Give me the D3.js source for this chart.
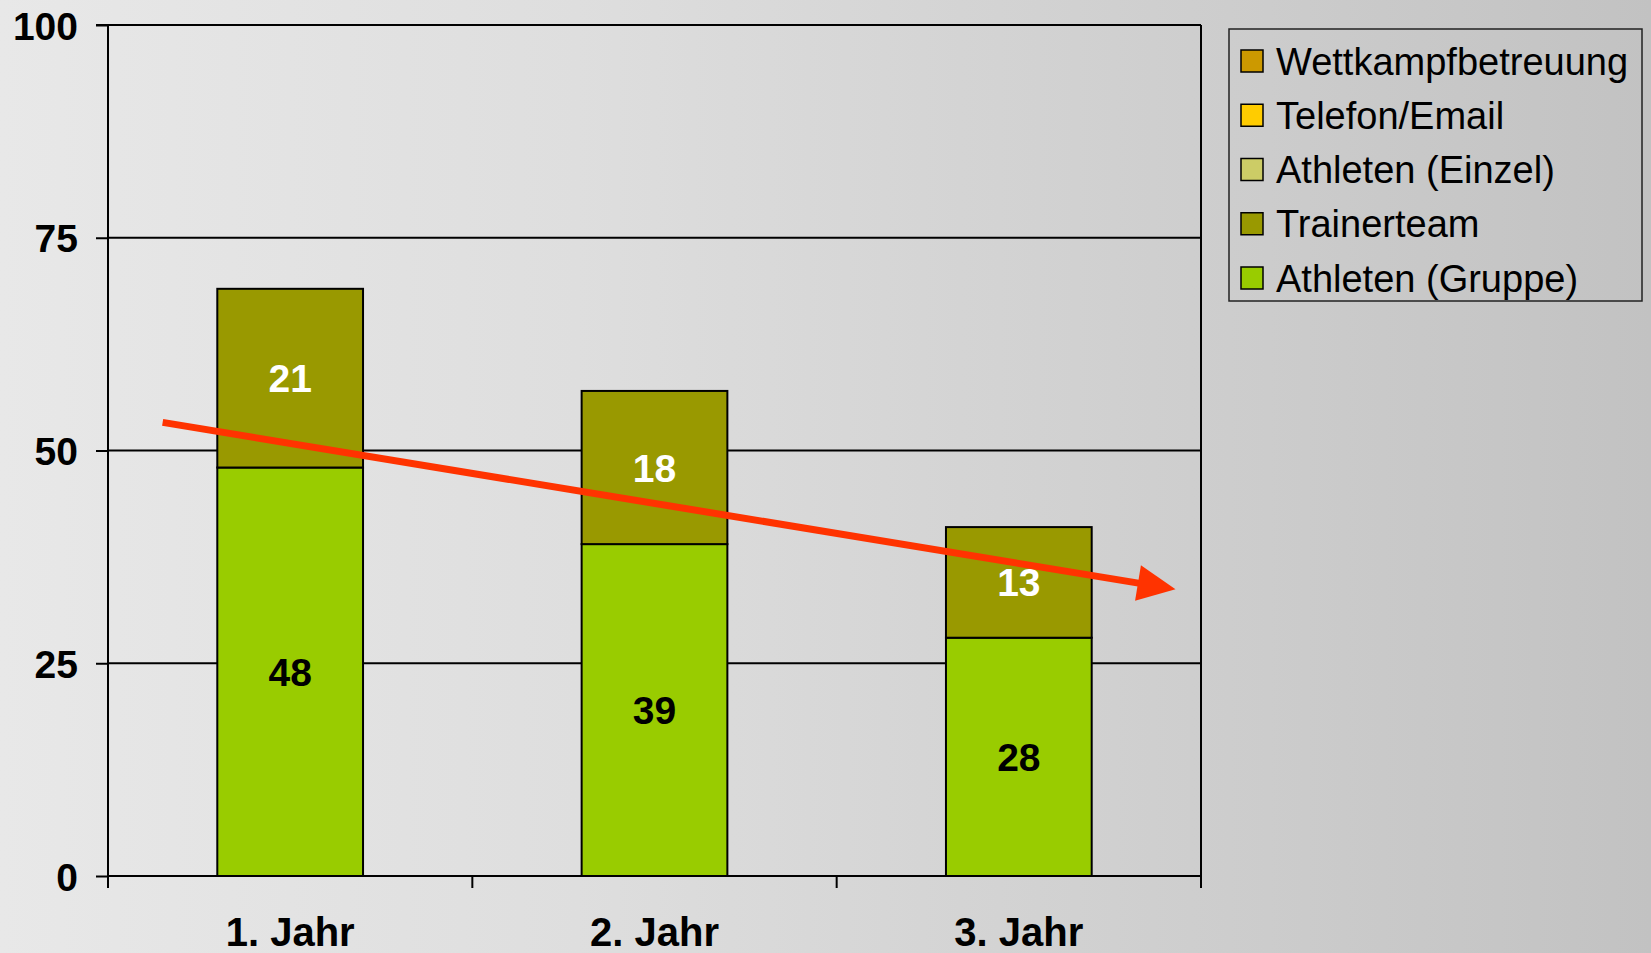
<!DOCTYPE html>
<html>
<head>
<meta charset="utf-8">
<script src="https://cdn.jsdelivr.net/npm/d3@7"></script>
<style>
  html, body { margin: 0; padding: 0; background: #d6d6d6; }
  svg { display: block; }
  text { font-family: "Liberation Sans", Arial, Helvetica, sans-serif; }
</style>
</head>
<body>
<svg id="chart" width="1651" height="953"></svg>
<script>
// ---- data ----
const categories = ["1. Jahr", "2. Jahr", "3. Jahr"];
const seriesNames = ["Athleten (Gruppe)", "Trainerteam", "Athleten (Einzel)", "Telefon/Email", "Wettkampfbetreuung"];
const athletenGruppe = [48, 39, 28];
const trainerteam = [21, 18, 13];
const athletenEinzel = [0, 0, 0];
const telefonEmail = [0, 0, 0];
const wettkampfbetreuung = [0, 0, 0];
const yTicks = [0, 25, 50, 75, 100];
// trend arrow in data space: position in category units, value on y axis
const trendArrow = [{pos: 0.15, value: 53.3}, {pos: 2.93, value: 33.7}];

// ---- styles ----
const seriesColors = ["#99CC00", "#999900", "#CCCC66", "#FFCC00", "#CC9900"];
const labelColors = ["#000000", "#FFFFFF", "#000000", "#000000", "#000000"];

const svg = d3.select("#chart");
const W = 1651, H = 953;

// background gradient
const defs = svg.append("defs");
const grad = defs.append("linearGradient").attr("id", "bg")
  .attr("x1", "0").attr("y1", "0").attr("x2", "1").attr("y2", "0");
grad.append("stop").attr("offset", "0%").attr("stop-color", "#e8e8e8");
grad.append("stop").attr("offset", "35%").attr("stop-color", "#dedede");
grad.append("stop").attr("offset", "100%").attr("stop-color", "#c2c2c2");
svg.append("rect").attr("width", W).attr("height", H).attr("fill", "url(#bg)");

const plot = {left: 108, right: 1201, top: 25, bottom: 876};

const x = d3.scaleBand().domain(categories).range([plot.left, plot.right]).padding(0);
const y = d3.scaleLinear().domain([0, 100]).range([plot.bottom, plot.top]);
const step = x.step();
const barW = step * 0.4;

// gridlines
svg.append("g").selectAll("line").data(yTicks.filter(d => d > 0)).join("line")
  .attr("x1", plot.left).attr("x2", plot.right)
  .attr("y1", d => y(d)).attr("y2", d => y(d))
  .attr("stroke", "#000").attr("stroke-width", 2);

// stacked data
const seriesValues = [athletenGruppe, trainerteam, athletenEinzel, telefonEmail, wettkampfbetreuung];
const rows = categories.map((c, i) => {
  const r = {cat: c};
  seriesNames.forEach((s, j) => r[s] = seriesValues[j][i]);
  return r;
});
const stacked = d3.stack().keys(seriesNames)(rows);

const gBars = svg.append("g");
stacked.forEach((layer, j) => {
  gBars.append("g").selectAll("rect")
    .data(layer.filter(d => d[1] - d[0] > 0))
    .join("rect")
    .attr("x", d => x(d.data.cat) + (step - barW) / 2)
    .attr("width", barW)
    .attr("y", d => y(d[1]))
    .attr("height", d => y(d[0]) - y(d[1]))
    .attr("fill", seriesColors[j])
    .attr("stroke", "#000").attr("stroke-width", 2);
});

// data labels
stacked.forEach((layer, j) => {
  gBars.append("g").selectAll("text")
    .data(layer.filter(d => d[1] - d[0] > 0))
    .join("text")
    .attr("x", d => x(d.data.cat) + step / 2)
    .attr("y", d => y((d[0] + d[1]) / 2) + 14)
    .attr("text-anchor", "middle")
    .attr("font-size", 39).attr("font-weight", "bold")
    .attr("fill", labelColors[j])
    .text(d => d[1] - d[0]);
});

// y axis
const yAxis = d3.axisLeft(y).tickValues(yTicks).tickSize(12).tickPadding(18).tickFormat(d3.format("d"));
const gy = svg.append("g").attr("transform", `translate(${plot.left},0)`).call(yAxis);
gy.select(".domain").attr("stroke", "#000").attr("stroke-width", 2).attr("d", `M-12,${plot.top}H0V${plot.bottom}`);
gy.selectAll(".tick line").attr("stroke", "#000").attr("stroke-width", 2);
gy.selectAll(".tick text").attr("font-size", 39).attr("font-weight", "bold").attr("fill", "#000")
  .attr("font-family", "Liberation Sans, Arial, sans-serif").attr("dy", "0.36em");

// x axis
const gx = svg.append("g");
gx.append("line").attr("x1", plot.left).attr("x2", plot.right)
  .attr("y1", plot.bottom).attr("y2", plot.bottom)
  .attr("stroke", "#000").attr("stroke-width", 2);
const boundaries = d3.range(categories.length + 1).map(i => plot.left + i * step);
gx.selectAll("line.tick").data(boundaries).join("line").attr("class", "tick")
  .attr("x1", d => d).attr("x2", d => d)
  .attr("y1", plot.bottom).attr("y2", plot.bottom + 12)
  .attr("stroke", "#000").attr("stroke-width", 2);
gx.selectAll("text").data(categories).join("text")
  .attr("x", d => x(d) + step / 2)
  .attr("y", 946)
  .attr("text-anchor", "middle")
  .attr("font-size", 40).attr("font-weight", "bold").attr("fill", "#000")
  .text(d => d);

// right border of plot area
svg.append("line").attr("x1", plot.right).attr("x2", plot.right)
  .attr("y1", plot.top).attr("y2", plot.bottom)
  .attr("stroke", "#000").attr("stroke-width", 2);

// trend arrow
const xp = d3.scaleLinear().domain([0, categories.length]).range([plot.left, plot.right]);
const p0 = [xp(trendArrow[0].pos), y(trendArrow[0].value)];
const p1 = [xp(trendArrow[1].pos), y(trendArrow[1].value)];
const dx = p1[0] - p0[0], dy = p1[1] - p0[1];
const len = Math.hypot(dx, dy);
const ux = dx / len, uy = dy / len;
const headLen = 38, headHalf = 18;
const base = [p1[0] - ux * headLen, p1[1] - uy * headLen];
svg.append("line")
  .attr("x1", p0[0]).attr("y1", p0[1])
  .attr("x2", base[0] + ux * 2).attr("y2", base[1] + uy * 2)
  .attr("stroke", "#FF3300").attr("stroke-width", 7);
svg.append("path")
  .attr("d", `M${p1[0]},${p1[1]}L${base[0] - uy * headHalf},${base[1] + ux * headHalf}L${base[0] + uy * headHalf},${base[1] - ux * headHalf}Z`)
  .attr("fill", "#FF3300");

// legend
const legendOrder = seriesNames.map((s, j) => ({name: s, color: seriesColors[j]})).reverse();
const lg = svg.append("g");
lg.append("rect").attr("x", 1229).attr("y", 29).attr("width", 413).attr("height", 272)
  .attr("fill", "none").attr("stroke", "#222").attr("stroke-width", 1.5);
const rowH = 54.25;
const item = lg.selectAll("g.item").data(legendOrder).join("g").attr("class", "item")
  .attr("transform", (d, i) => `translate(0,${61 + i * rowH})`);
item.append("rect").attr("x", 1241).attr("y", -11).attr("width", 22).attr("height", 22)
  .attr("fill", d => d.color).attr("stroke", "#000").attr("stroke-width", 1.5);
item.append("text").attr("x", 1276).attr("y", 13.5)
  .attr("font-size", 38).attr("fill", "#000")
  .text(d => d.name);
</script>
</body>
</html>
